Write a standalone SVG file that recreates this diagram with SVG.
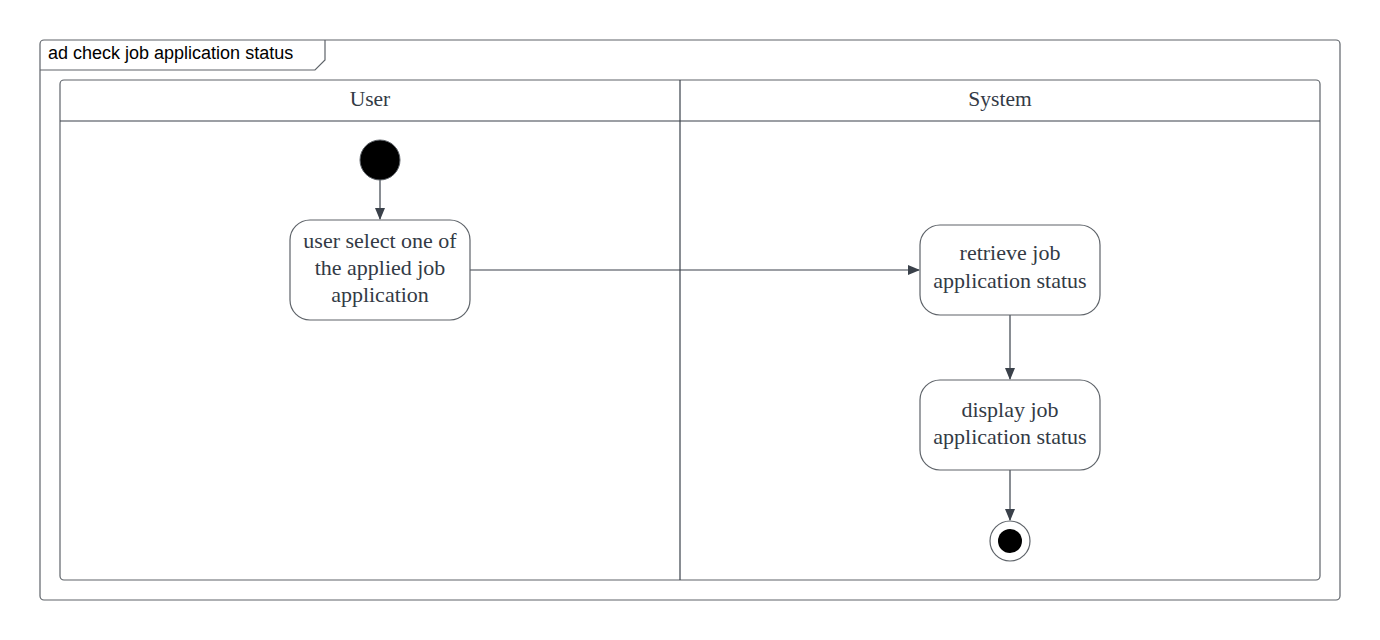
<svg xmlns="http://www.w3.org/2000/svg" width="1380" height="640" viewBox="0 0 1380 640">
<style>
.ln{fill:none;stroke:#5e6369;stroke-width:1.2}
.nd{fill:#fff;stroke:#5e6369;stroke-width:1.2}
.cn{fill:none;stroke:#3a414a;stroke-width:1.2}
.lbl{font-family:"Liberation Serif",serif;font-size:22px;fill:#333a45;text-anchor:middle}
.hdr{font-family:"Liberation Serif",serif;font-size:21.5px;fill:#333a45;text-anchor:middle}
.ttl{font-family:"Liberation Sans",sans-serif;font-size:18px;fill:#000}
</style>
<defs>
<marker id="ah" markerWidth="12" markerHeight="10" refX="11" refY="5" orient="auto" markerUnits="userSpaceOnUse">
<path d="M0,0 L12,5 L0,10 Z" fill="#3a414a"/>
</marker>
</defs>
<rect width="1380" height="640" fill="#fff"/>
<g id="frame">
<rect x="40" y="40" width="1300" height="560" rx="4" class="ln"/>
<path d="M40,70 L315,70 L325,60 L325,40" class="ln"/>
<text x="48" y="59" class="ttl">ad check job application status</text>
</g>
<g id="pool">
<rect x="60" y="80" width="1260" height="500" rx="4" class="ln"/>
<line x1="60" y1="121" x2="1320" y2="121" stroke="#3a414a" stroke-width="1.2"/>
<line x1="680" y1="80" x2="680" y2="580" stroke="#3a414a" stroke-width="1.2"/>
<text x="370" y="106" class="hdr">User</text>
<text x="1000" y="106" class="hdr">System</text>
</g>
<g id="connectors">
<line x1="380" y1="180" x2="380" y2="219" class="cn" marker-end="url(#ah)"/>
<line x1="470" y1="270" x2="919" y2="270" class="cn" marker-end="url(#ah)"/>
<line x1="1010" y1="315" x2="1010" y2="379" class="cn" marker-end="url(#ah)"/>
<line x1="1010" y1="470" x2="1010" y2="520" class="cn" marker-end="url(#ah)"/>
</g>
<g id="start">
<circle cx="380" cy="160" r="20" fill="#000" stroke="#5e6369" stroke-width="1"/>
</g>
<g id="select">
<rect x="290" y="220" width="180" height="100" rx="20" class="nd"/>
<text x="380" y="248" class="lbl">user select one of</text>
<text x="380" y="275" class="lbl">the applied job</text>
<text x="380" y="302" class="lbl">application</text>
</g>
<g id="retrieve">
<rect x="920" y="225" width="180" height="90" rx="20" class="nd"/>
<text x="1010" y="260" class="lbl">retrieve job</text>
<text x="1010" y="288" class="lbl">application status</text>
</g>
<g id="display">
<rect x="920" y="380" width="180" height="90" rx="20" class="nd"/>
<text x="1010" y="417" class="lbl">display job</text>
<text x="1010" y="444" class="lbl">application status</text>
</g>
<g id="end">
<circle cx="1010" cy="541" r="20" fill="#fff" stroke="#5e6369" stroke-width="1.2"/>
<circle cx="1010" cy="541" r="12" fill="#000"/>
</g>
</svg>
